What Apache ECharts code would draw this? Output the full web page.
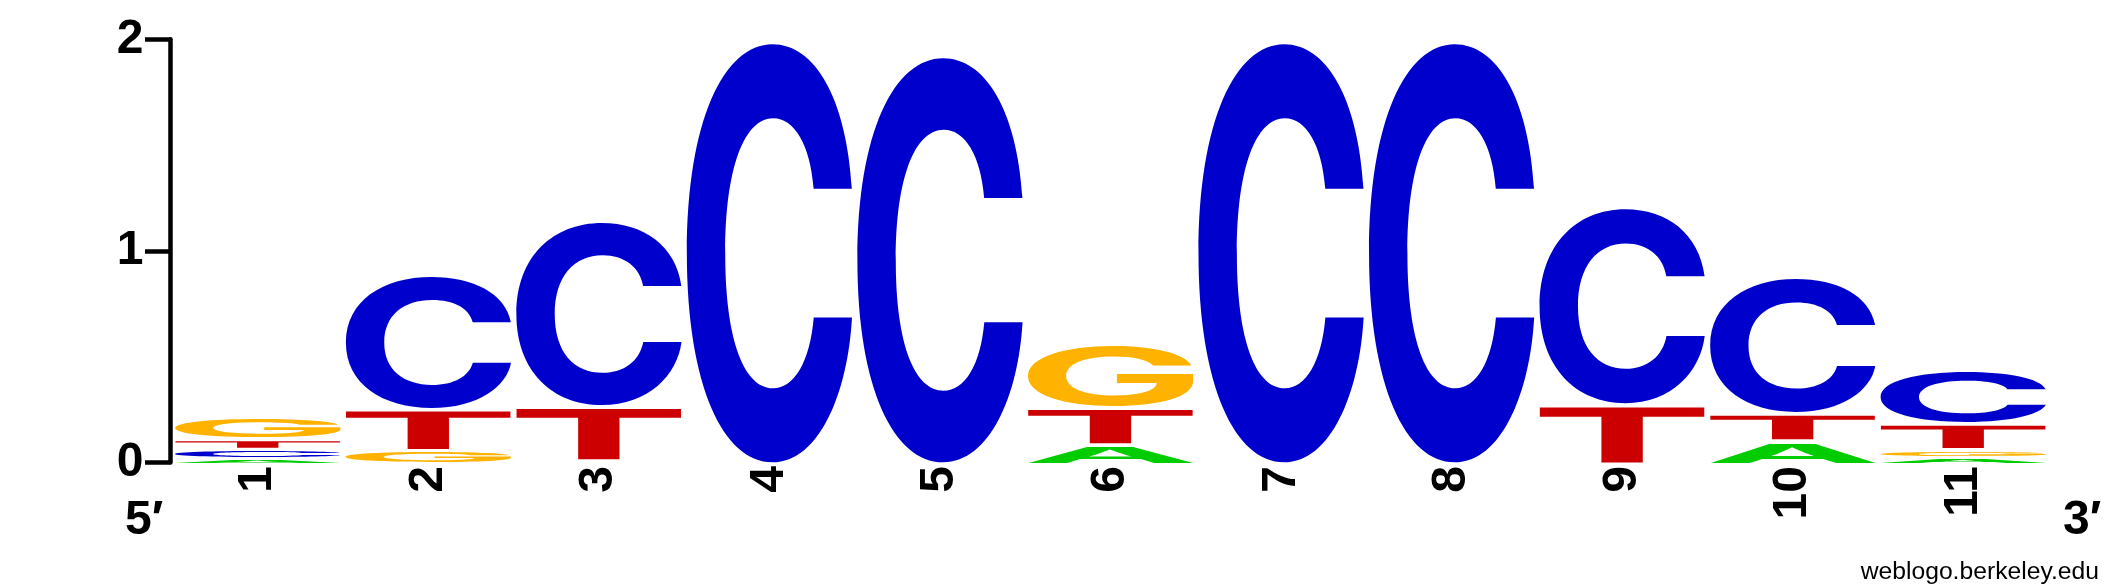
<!DOCTYPE html>
<html>
<head>
<meta charset="utf-8">
<script src="https://cdn.jsdelivr.net/npm/echarts@6/dist/echarts.min.js"></script>
<style>
html,body{margin:0;padding:0;background:#fff;}
#chart{width:2125px;height:588px;}
</style>
</head>
<body>
<div id="chart"></div>
<script>
// ---- data (bits per letter at each position) ----
const positions = ['1','2','3','4','5','6','7','8','9','10','11'];
const letters = ['A','C','G','T'];
const A_bits = [0.025, 0,     0,     0,    0,     0.091, 0,    0,    0,     0.110, 0.031];
const C_bits = [0.045, 0.634, 0.878, 1.99, 1.924, 0,     1.99, 1.99, 0.933, 0.645, 0.250];
const G_bits = [0.104, 0.064, 0.015, 0,    0,     0.300, 0,    0,    0,     0,     0.038];
const T_bits = [0.049, 0.197, 0.257, 0,    0,     0.176, 0,    0,    0.280, 0.130, 0.124];
const yTicks = [0, 1, 2];

const letterColors = {A:'#00CC00', C:'#0000CC', G:'#FFB300', T:'#CC0000'};
const GLYPH_FONT = 'bold 200px Inter, "Liberation Sans"';

// measure glyph bounding boxes relative to the anchor (center / middle)
const metrics = {};
(function(){
  const cv = document.createElement('canvas');
  const ctx = cv.getContext('2d');
  ctx.font = GLYPH_FONT;
  ctx.textAlign = 'center';
  ctx.textBaseline = 'middle';
  letters.forEach(function(L){
    const m = ctx.measureText(L);
    metrics[L] = {
      l: -m.actualBoundingBoxLeft,
      r: m.actualBoundingBoxRight,
      t: -m.actualBoundingBoxAscent,
      b: m.actualBoundingBoxDescent
    };
  });
})();

// build stacked items: [position index, y0, y1, letter index]
const bitsByLetter = [A_bits, C_bits, G_bits, T_bits];
const stackData = [];
positions.forEach(function(p, i){
  const col = letters.map(function(L, k){ return {k:k, v: bitsByLetter[k][i]}; })
    .filter(function(o){ return o.v > 0; })
    .sort(function(a, b){ return a.v - b.v; });
  let acc = 0;
  col.forEach(function(o){
    stackData.push([i, acc, acc + o.v, o.k]);
    acc += o.v;
  });
});

const chart = echarts.init(document.getElementById('chart'), null, {renderer:'canvas'});

function renderLetter(params, api){
  const xi = api.value(0), y0 = api.value(1), y1 = api.value(2);
  const L = letters[api.value(3)];
  const band = api.size([1, 0])[0];
  const c0 = api.coord([xi, y0]);
  const c1 = api.coord([xi, y1]);
  const w = band * 0.9736;
  const left = c0[0] - w / 2;
  const h = c0[1] - c1[1];
  const gap = Math.min(4, h * 0.5);
  const gh = h - gap;
  if (gh < 1.8) return null;
  const m = metrics[L];
  const sx = w / (m.r - m.l);
  const sy = gh / (m.b - m.t);
  const top = c0[1] - gh;
  return {
    type: 'text',
    x: left - m.l * sx,
    y: top - m.t * sy,
    scaleX: sx,
    scaleY: sy,
    style: {
      text: L,
      font: GLYPH_FONT,
      fill: letterColors[L],
      align: 'center',
      verticalAlign: 'middle'
    }
  };
}

const option = {
  animation: false,
  backgroundColor: '#ffffff',
  grid: {left: 172.75, top: 39.3, width: 1876, height: 423.2, containLabel: false, outerBoundsMode: 'none'},
  xAxis: {
    type: 'category',
    data: positions,
    boundaryGap: true,
    axisLine: {show: false},
    axisTick: {show: false},
    splitLine: {show: false},
    axisLabel: {
      interval: 0,
      rotate: 90,
      margin: 3.5,
      padding: [10, 0, 0, 0],
      color: '#000',
      fontFamily: 'Liberation Sans',
      fontWeight: 'bold',
      fontSize: 48
    }
  },
  yAxis: {
    type: 'value',
    min: yTicks[0],
    max: yTicks[yTicks.length - 1],
    interval: 1,
    offset: 2.75,
    axisLine: {show: true, lineStyle: {color: '#000', width: 4.5}},
    axisTick: {show: true, length: 25, lineStyle: {color: '#000', width: 4.5}},
    splitLine: {show: false},
    axisLabel: {
      margin: 26.5,
      color: '#000',
      fontFamily: 'Liberation Sans',
      fontWeight: 'bold',
      fontSize: 48,
      formatter: function(v){ return yTicks.indexOf(v) >= 0 ? String(v) : ''; }
    }
  },
  graphic: [
    {type: 'text', left: 125, top: 521 - 24, style: {text: '5\u2032', font: 'bold 48px "Liberation Sans"', fill: '#000'}},
    {type: 'text', left: 2063, top: 521 - 24, style: {text: '3\u2032', font: 'bold 48px "Liberation Sans"', fill: '#000'}},
    {type: 'text', right: 2125 - 2099, top: 572.4 - 12.35, style: {text: 'weblogo.berkeley.edu', font: '24.7px "Liberation Sans"', fill: '#000'}}
  ],
  series: [{
    type: 'custom',
    renderItem: renderLetter,
    dimensions: ['pos', 'y0', 'y1', 'letter'],
    encode: {x: 0, y: [1, 2]},
    data: stackData,
    clip: false
  }]
};
chart.setOption(option);
</script>
</body>
</html>
